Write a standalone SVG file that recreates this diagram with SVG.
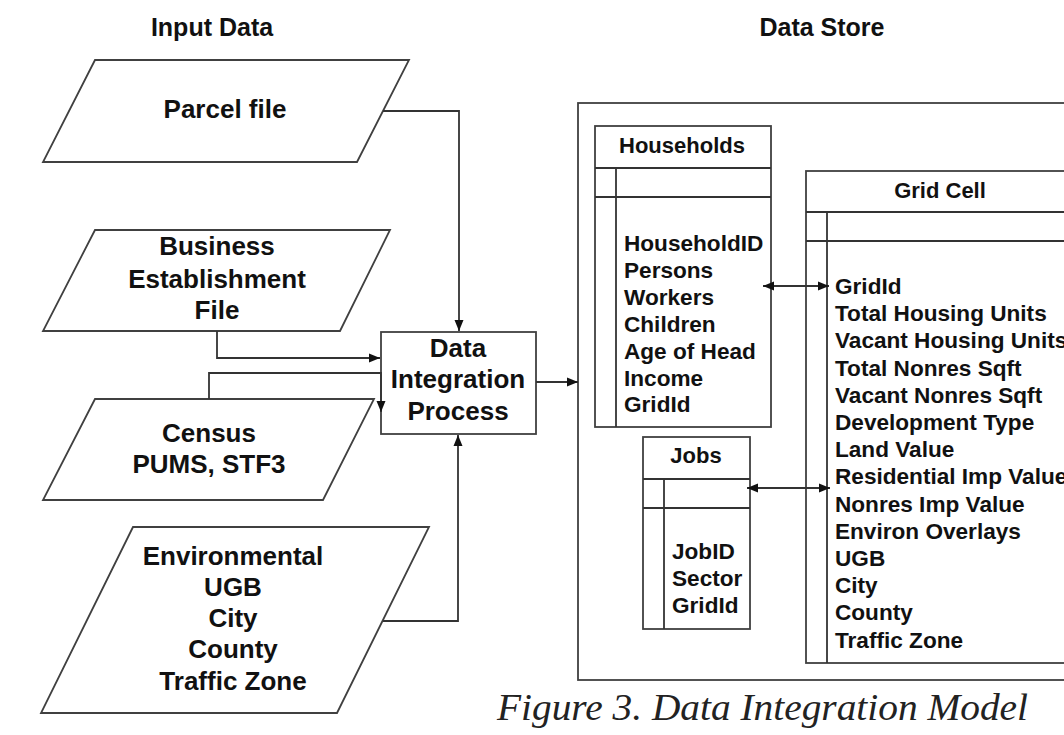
<svg xmlns="http://www.w3.org/2000/svg" width="1064" height="735" viewBox="0 0 1064 735">
<style>
  .shape { fill: #ffffff; stroke: #404040; stroke-width: 1.8; }
  .line { fill: none; stroke: #333333; stroke-width: 1.8; }
  .t { font-family: "Liberation Sans", Arial, sans-serif; font-weight: bold; fill: #111111; }
  .big { font-size: 26px; text-anchor: middle; }
  .head { font-size: 25px; text-anchor: middle; }
  .tbl { font-size: 22px; text-anchor: middle; }
  .attr { font-size: 22.6px; }
  .cap { font-family: "Liberation Serif", "Times New Roman", serif; font-style: italic; font-size: 38px; fill: #222222; }
</style>
<defs>
  <marker id="arr" markerUnits="userSpaceOnUse" markerWidth="12" markerHeight="10" refX="11" refY="5" orient="auto-start-reverse">
    <path d="M0,0.5 L11,5 L0,9.5 z" fill="#111111"/>
  </marker>
</defs>
<rect width="1064" height="735" fill="#ffffff"/>

<text class="t head" x="212" y="36">Input Data</text>
<text class="t head" x="822" y="36">Data Store</text>

<g id="parcel">
  <polygon class="shape" points="95,60 409,60 357,162 43,162"/>
  <text class="t big" x="225" y="118">Parcel file</text>
</g>
<g id="business">
  <polygon class="shape" points="95,230 390,230 340,331 43,331"/>
  <text class="t big" x="217" y="255">Business</text>
  <text class="t big" x="217" y="288">Establishment</text>
  <text class="t big" x="217" y="319">File</text>
</g>
<g id="census">
  <polygon class="shape" points="95,399 374,399 323,500 43,500"/>
  <text class="t big" x="209" y="442">Census</text>
  <text class="t big" x="209" y="473">PUMS, STF3</text>
</g>
<g id="environmental">
  <polygon class="shape" points="133,527 429,527 337,713 41,713"/>
  <text class="t big" x="233" y="565">Environmental</text>
  <text class="t big" x="233" y="596">UGB</text>
  <text class="t big" x="233" y="627">City</text>
  <text class="t big" x="233" y="658">County</text>
  <text class="t big" x="233" y="690">Traffic Zone</text>
</g>
<g id="process">
  <rect class="shape" x="381" y="332" width="155" height="102"/>
  <text class="t big" x="458" y="357">Data</text>
  <text class="t big" x="458" y="388">Integration</text>
  <text class="t big" x="458" y="420">Process</text>
</g>

<g id="datastore">
  <rect class="shape" x="578" y="103" width="500" height="577"/>
</g>
<g id="households">
  <rect class="shape" x="595" y="126" width="176" height="301"/>
  <line class="line" x1="595" y1="168" x2="771" y2="168"/>
  <line class="line" x1="595" y1="197" x2="771" y2="197"/>
  <line class="line" x1="616" y1="168" x2="616" y2="427"/>
  <text class="t tbl" x="682" y="153">Households</text>
  <text class="t attr" x="624" y="251">HouseholdID</text>
  <text class="t attr" x="624" y="278">Persons</text>
  <text class="t attr" x="624" y="305">Workers</text>
  <text class="t attr" x="624" y="332">Children</text>
  <text class="t attr" x="624" y="359">Age of Head</text>
  <text class="t attr" x="624" y="386">Income</text>
  <text class="t attr" x="624" y="412">GridId</text>
</g>
<g id="jobs">
  <rect class="shape" x="643" y="437" width="107" height="192"/>
  <line class="line" x1="643" y1="479" x2="750" y2="479"/>
  <line class="line" x1="643" y1="508" x2="750" y2="508"/>
  <line class="line" x1="664" y1="479" x2="664" y2="629"/>
  <text class="t tbl" x="696" y="463">Jobs</text>
  <text class="t attr" x="672" y="559">JobID</text>
  <text class="t attr" x="672" y="586">Sector</text>
  <text class="t attr" x="672" y="613">GridId</text>
</g>
<g id="gridcell">
  <rect class="shape" x="806" y="171" width="280" height="492"/>
  <line class="line" x1="806" y1="212" x2="1086" y2="212"/>
  <line class="line" x1="806" y1="241" x2="1086" y2="241"/>
  <line class="line" x1="827" y1="212" x2="827" y2="663"/>
  <text class="t tbl" x="940" y="198">Grid Cell</text>
  <text class="t attr" x="835" y="294">GridId</text>
  <text class="t attr" x="835" y="321">Total Housing Units</text>
  <text class="t attr" x="835" y="348">Vacant Housing Units</text>
  <text class="t attr" x="835" y="376">Total Nonres Sqft</text>
  <text class="t attr" x="835" y="403">Vacant Nonres Sqft</text>
  <text class="t attr" x="835" y="430">Development Type</text>
  <text class="t attr" x="835" y="457">Land Value</text>
  <text class="t attr" x="835" y="484">Residential Imp Value</text>
  <text class="t attr" x="835" y="512">Nonres Imp Value</text>
  <text class="t attr" x="835" y="539">Environ Overlays</text>
  <text class="t attr" x="835" y="566">UGB</text>
  <text class="t attr" x="835" y="593">City</text>
  <text class="t attr" x="835" y="620">County</text>
  <text class="t attr" x="835" y="648">Traffic Zone</text>
</g>

<g id="connectors">
  <path class="line" d="M383,111 H459 V331" marker-end="url(#arr)"/>
  <path class="line" d="M217,331 V358 H380" marker-end="url(#arr)"/>
  <path class="line" d="M209,399 V373 H381 V412" marker-end="url(#arr)"/>
  <path class="line" d="M383,621 H458 V435" marker-end="url(#arr)"/>
  <path class="line" d="M536,382 H578" marker-end="url(#arr)"/>
  <path class="line" d="M763,286 H829" marker-start="url(#arr)" marker-end="url(#arr)"/>
  <path class="line" d="M747,488 H830" marker-start="url(#arr)" marker-end="url(#arr)"/>
</g>

<text class="cap" x="497" y="720" textLength="531" lengthAdjust="spacingAndGlyphs">Figure 3. Data Integration Model</text>
</svg>
